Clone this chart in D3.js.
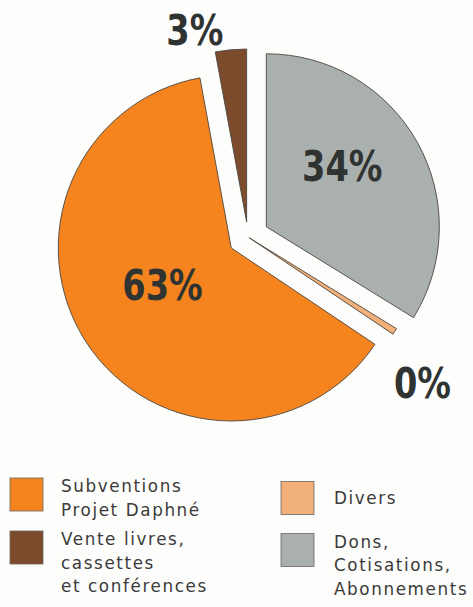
<!doctype html>
<html lang="fr">
<head>
<meta charset="UTF-8" />
<title>Répartition des ressources</title>
<script src="https://d3js.org/d3.v7.min.js"></script>
<style>
    body, html {
        margin: 0;
        padding: 0;
        background: #fdfdfc;
        overflow: hidden;
    }
    svg {
        display: block;
    }
    .slice {
        stroke: #4b4640;
        stroke-width: 0.9px;
    }
    .pct {
        font-family: "DejaVu Sans", sans-serif;
        font-weight: bold;
        font-size: 42px;
        fill: #2f3331;
    }
    .legend-text {
        font-family: "DejaVu Sans", sans-serif;
        font-size: 16.8px;
        letter-spacing: 1.6px;
        fill: #3a3b3a;
    }
</style>
</head>
<body>
<svg id="chart" width="473" height="607"></svg>
<script>
    // data, in drawing order starting at 12 o'clock, clockwise
    const categories = ["Dons", "Divers", "Subventions", "Vente"];
    const values = [33.8, 0.6, 62.7, 2.9];
    const pctLabels = ["34%", "0%", "63%", "3%"];
    const colors = ["#aab0ae", "#f1b079", "#f5841f", "#7b4b2c"];

    // legend, two columns
    const legendLeft = [
        { cat: "Subventions", lines: ["Subventions", "Projet Daphné"] },
        { cat: "Vente", lines: ["Vente livres,", "cassettes", "et conférences"] }
    ];
    const legendRight = [
        { cat: "Divers", lines: ["Divers"] },
        { cat: "Dons", lines: ["Dons,", "Cotisations,", "Abonnements"] }
    ];

    const svg = d3.select("#chart");
    const cx = 248, cy = 237, radius = 173;

    // how far each slice is pulled out, and where its % sits (angle in deg, distance)
    const explode = { Dons: 21, Divers: 1.5, Subventions: 20, Vente: 15 };
    const labelAt = {
        Dons: [53, 118],
        Divers: [129.8, 227],
        Subventions: [240.7, 98],
        Vente: [345.6, 214]
    };

    const color = d3.scaleOrdinal().domain(categories).range(colors);

    const pie = d3.pie().sort(null).value(d => d.v);
    const arcs = pie(categories.map((c, i) => ({ cat: c, v: values[i], label: pctLabels[i] })));

    const arc = d3.arc().innerRadius(0).outerRadius(radius);

    const g = svg.append("g").attr("transform", `translate(${cx},${cy})`);

    g.selectAll("path")
        .data(arcs)
        .join("path")
        .attr("class", "slice")
        .attr("fill", d => color(d.data.cat))
        .attr("d", arc)
        .attr("transform", d => {
            const mid = (d.startAngle + d.endAngle) / 2;
            const k = explode[d.data.cat];
            return `translate(${k * Math.sin(mid)},${-k * Math.cos(mid)})`;
        });

    // condensed look: squeeze the bold face horizontally
    g.selectAll("text.pct")
        .data(arcs)
        .join("text")
        .attr("class", "pct")
        .attr("text-anchor", "middle")
        .attr("transform", d => {
            const [deg, r] = labelAt[d.data.cat];
            const a = deg * Math.PI / 180;
            return `translate(${r * Math.sin(a)},${-r * Math.cos(a) + 15.5}) scale(0.8,1)`;
        })
        .text(d => d.data.label);

    // legend
    function drawLegend(items, x, tops) {
        items.forEach((item, i) => {
            const top = tops[i];
            svg.append("rect")
                .attr("x", x)
                .attr("y", top)
                .attr("width", 33)
                .attr("height", 33)
                .attr("fill", color(item.cat))
                .attr("stroke", "#6a6560")
                .attr("stroke-width", 0.8);
            item.lines.forEach((line, j) => {
                svg.append("text")
                    .attr("class", "legend-text")
                    .attr("x", x + (x > 200 ? 53 : 51))
                    .attr("y", top + (item.lines.length === 1 ? 22 : 14) + j * 23.5)
                    .text(line);
            });
        });
    }

    drawLegend(legendLeft, 10, [478, 531]);
    drawLegend(legendRight, 281, [481.5, 533.5]);
</script>
</body>
</html>
